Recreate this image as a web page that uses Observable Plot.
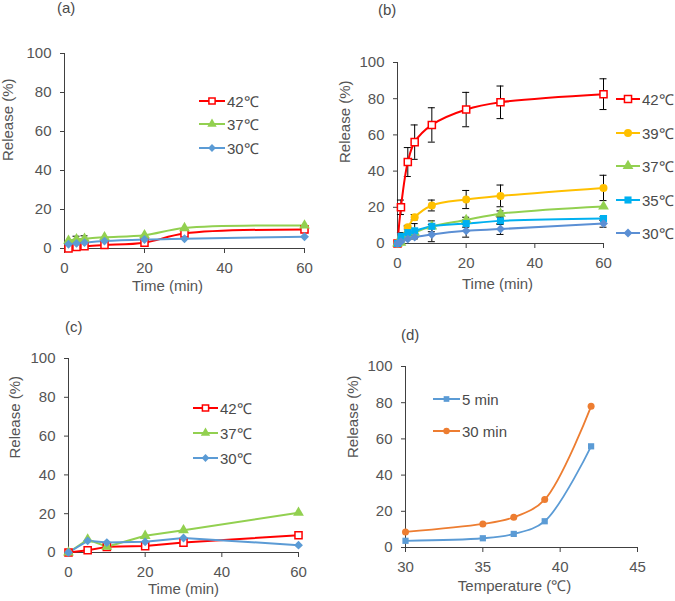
<!DOCTYPE html>
<html><head><meta charset="utf-8">
<script src="https://cdn.jsdelivr.net/npm/d3@7"></script>
<script src="https://cdn.jsdelivr.net/npm/@observablehq/plot@0.6"></script>
<style>
body{margin:0;background:#fff;font-family:"Liberation Sans",Arial,sans-serif;}
#root{position:relative;width:675px;height:601px;overflow:hidden;background:#fff;}
.panel{position:absolute;}
.panel svg text{font-weight:normal;}
.lbl{position:absolute;font-size:15px;color:#4a4a4a;line-height:16px;}
.leg{position:absolute;font-size:15px;color:#4a4a4a;display:flex;align-items:center;height:20px;white-space:nowrap;}
.leg svg{display:block;}
</style></head><body><div id="root"></div>
<script>
// ---------- data ----------
// (a)
const namesA = ["42℃", "37℃", "30℃"];
const timeA = [1, 3, 5, 10, 20, 30, 60];
const relA42 = [0, 0.8, 1.2, 1.8, 3, 7.7, 9.8];
const relA37 = [4, 4.8, 5, 5.8, 6.8, 10.5, 11.8];
const relA30 = [2.2, 2.6, 3, 3.8, 4.6, 5, 6];
const errA37 = [0, 1.5, 1.5, 0, 0, 0, 0];

// (b)
const namesB = ["42℃", "39℃", "37℃", "35℃", "30℃"];
const timeB = [0, 1, 3, 5, 10, 20, 30, 60];
const relB42 = [0, 20, 45, 56, 65.5, 74, 78, 82.5];
const relB39 = [0, 3, 9, 14.5, 21, 24.3, 26.3, 30.7];
const relB37 = [0, 0.5, 4, 6, 9.5, 13, 16.5, 20.5];
const relB35 = [0, 4, 6, 7, 9.5, 11, 12.5, 13.8];
const relB30 = [0, 1, 2.5, 3.5, 5, 7, 8, 11];
const errB42 = [0, 4, 8, 9.5, 9.5, 9.5, 9, 8.5];
const errB39 = [0, 0, 1, 1.5, 3, 5, 6, 7];
const errB37 = [0, 0, 0, 0, 1, 1.5, 1.5, 0];
const errB35 = [0, 2, 3.5, 4, 3, 2, 2, 1];
const errB30 = [0, 0, 0, 1, 4, 3.5, 3, 2];

// (c)
const namesC = ["42℃", "37℃", "30℃"];
const timeC = [0, 5, 10, 20, 30, 60];
const relC42 = [0, 1.2, 2.9, 3.3, 5.1, 8.9];
const relC37 = [0, 6.7, 3, 8.6, 11.5, 20.5];
const relC30 = [0, 6, 5.1, 5.5, 7.5, 3.8];

// (d)
const namesD = ["5 min", "30 min"];
const tempD = [30, 35, 37, 39, 42];
const relD5 = [3.7, 5.1, 7.5, 14.5, 55.9];
const relD30 = [8.6, 13, 16.7, 26.5, 78];

const yTicks = [0, 20, 40, 60, 80, 100];
const timeTicks = [0, 20, 40, 60];
const tempTicks = [30, 35, 40, 45];

// ---------- helpers ----------
const root = document.getElementById("root");
const axisColor = "#404040";
const textColor = "#555555";
const font = "'Liberation Sans', Arial, sans-serif";

function rowsFor(xs, names, vals, errs, opens) {
  const out = [];
  names.forEach((n, i) => {
    xs.forEach((x, j) => {
      out.push({t: x, v: vals[i][j], e: errs && errs[i] ? errs[i][j] : 0, s: n, open: opens[i]});
    });
  });
  return out;
}

function drawPanel(c) {
  const marks = [
    Plot.ruleX([c.xDomain[0]], {stroke: axisColor, strokeWidth: 1}),
    Plot.ruleY([0], {stroke: axisColor, strokeWidth: 1}),
    Plot.axisX(c.xTicks, {tickSize: 5, tickPadding: 9, label: null, stroke: axisColor, fill: textColor, fontSize: 15}),
    Plot.axisY(yTicks, {tickSize: 4, tickPadding: 9, label: null, stroke: axisColor, fill: textColor, fontSize: 15}),
  ];
  const eb = c.rows.filter(d => d.e > 0);
  if (eb.length) {
    marks.push(
      Plot.ruleX(eb, {x: "t", y1: d => d.v - d.e, y2: d => d.v + d.e, stroke: "#000", strokeWidth: 1}),
      Plot.ruleY(eb, {x1: "t", x2: "t", y: d => d.v + d.e, insetLeft: -3.5, insetRight: -3.5, stroke: "#000", strokeWidth: 1}),
      Plot.ruleY(eb, {x1: "t", x2: "t", y: d => d.v - d.e, insetLeft: -3.5, insetRight: -3.5, stroke: "#000", strokeWidth: 1})
    );
  }
  marks.push(
    Plot.line(c.rows, {x: "t", y: "v", z: "s", stroke: "s", curve: c.curve, strokeWidth: c.lw || 2}),
    Plot.dot(c.rows.filter(d => d.open), {x: "t", y: "v", symbol: "s", stroke: "s", fill: "white", r: c.r || 4, strokeWidth: 1.5}),
    Plot.dot(c.rows.filter(d => !d.open), {x: "t", y: "v", symbol: "s", fill: "s", r: c.r || 4}),
    Plot.text([c.xLabel], {text: d => d, frameAnchor: "bottom", dx: c.xlDx, dy: c.xlDy, fontSize: 15, fill: textColor}),
    Plot.text(["Release (%)"], {text: d => d, frameAnchor: "left", rotate: -90, dx: c.ylDx, dy: c.ylDy, fontSize: 15, fill: textColor})
  );
  const svg = Plot.plot({
    width: c.width, height: c.height,
    marginLeft: c.ml, marginRight: c.mr, marginTop: c.mt, marginBottom: c.mb,
    style: {fontFamily: font, fontSize: "15px", color: textColor, background: "transparent", overflow: "visible"},
    x: {domain: c.xDomain},
    y: {domain: [0, 100]},
    color: {domain: c.names, range: c.colors},
    symbol: {domain: c.names, range: c.symbols},
    marks
  });
  const wrap = document.createElement("div");
  wrap.className = "panel";
  wrap.style.left = c.left + "px";
  wrap.style.top = c.top + "px";
  wrap.appendChild(svg);
  root.appendChild(wrap);
}

const symMap = {square: d3.symbolSquare, triangle: d3.symbolTriangle, diamond2: d3.symbolDiamond2, circle: d3.symbolCircle};

function drawLegend(l) {
  l.names.forEach((n, i) => {
    const div = document.createElement("div");
    div.className = "leg";
    div.style.left = l.x1 + "px";
    div.style.top = (l.rows[i] - 10) + "px";
    const w = l.x2 - l.x1;
    const svg = d3.create("svg").attr("width", w + 1).attr("height", 20);
    svg.append("line").attr("x1", 0).attr("x2", w).attr("y1", 10).attr("y2", 10)
      .attr("stroke", l.colors[i]).attr("stroke-width", 2);
    const r = l.r || 3.5;
    svg.append("path")
      .attr("transform", `translate(${w / 2},10)`)
      .attr("d", d3.symbol(symMap[l.symbols[i]], r * r * Math.PI)())
      .attr("fill", l.opens[i] ? "white" : l.colors[i])
      .attr("stroke", l.opens[i] ? l.colors[i] : "none")
      .attr("stroke-width", 1.5);
    div.appendChild(svg.node());
    const span = document.createElement("span");
    span.textContent = n;
    span.style.marginLeft = "1px";
    div.appendChild(span);
    root.appendChild(div);
  });
}

function panelLabel(text, x, y) {
  const d = document.createElement("div");
  d.className = "lbl";
  d.textContent = text;
  d.style.left = x + "px";
  d.style.top = Math.max(0, y - 8) + "px";
  root.appendChild(d);
}

// ---------- panel (a) ----------
const colorsA = ["#FF0000", "#92D050", "#5B9BD5"];
const symbolsA = ["square", "triangle", "diamond2"];
const opensA = [true, false, false];
drawPanel({
  left: 0, top: 0, width: 330, height: 300, ml: 64, mr: 26, mt: 53, mb: 52,
  xDomain: [0, 60], xTicks: timeTicks, curve: "catmull-rom",
  names: namesA, colors: colorsA, symbols: symbolsA,
  rows: rowsFor(timeA, namesA, [relA42, relA37, relA30], [null, errA37, null], opensA),
  xLabel: "Time (min)", xlDx: -17, xlDy: 42, ylDx: -56, ylDy: 10
});
drawLegend({names: namesA, colors: colorsA, symbols: symbolsA, opens: opensA, x1: 199, x2: 225, rows: [101, 124, 148]});
panelLabel("(a)", 57, 8);

// ---------- panel (b) ----------
const colorsB = ["#FF0000", "#FFC000", "#92D050", "#00B0F0", "#5B8FD4"];
const symbolsB = ["square", "circle", "triangle", "square", "diamond2"];
const opensB = [true, false, false, false, false];
drawPanel({
  left: 330, top: 0, width: 345, height: 300, ml: 67, mr: 72, mt: 62, mb: 57,
  xDomain: [0, 60], xTicks: timeTicks, curve: "catmull-rom",
  names: namesB, colors: colorsB, symbols: symbolsB,
  rows: rowsFor(timeB, namesB, [relB42, relB39, relB37, relB35, relB30], [errB42, errB39, errB37, errB35, errB30], opensB),
  xLabel: "Time (min)", xlDx: -3, xlDy: 45, ylDx: -52, ylDy: 10
});
drawLegend({names: namesB, colors: colorsB, symbols: symbolsB, opens: opensB, x1: 616, x2: 640, rows: [99, 132.5, 166, 199.5, 233], r: 4});
panelLabel("(b)", 378, 10);

// ---------- panel (c) ----------
const colorsC = ["#FF0000", "#92D050", "#5B9BD5"];
drawPanel({
  left: 0, top: 300, width: 330, height: 301, ml: 68, mr: 32, mt: 58, mb: 49,
  xDomain: [0, 60], xTicks: timeTicks, curve: "linear",
  names: namesC, colors: colorsC, symbols: symbolsA,
  rows: rowsFor(timeC, namesC, [relC42, relC37, relC30], null, opensA),
  xLabel: "Time (min)", xlDx: 0, xlDy: 41, ylDx: -53, ylDy: 3
});
drawLegend({names: namesC, colors: colorsC, symbols: symbolsA, opens: opensA, x1: 193, x2: 218, rows: [408, 433, 458]});
panelLabel("(c)", 65, 327);

// ---------- panel (d) ----------
const colorsD = ["#5B9BD5", "#ED7D31"];
const symbolsD = ["square", "circle"];
const opensD = [false, false];
drawPanel({
  left: 330, top: 300, width: 345, height: 301, ml: 75, mr: 38, mt: 66, mb: 54,
  xDomain: [30, 45], xTicks: tempTicks, curve: "catmull-rom", r: 3.5, lw: 1.8,
  names: namesD, colors: colorsD, symbols: symbolsD,
  rows: rowsFor(tempD, namesD, [relD5, relD30], null, opensD),
  xLabel: "Temperature (℃)", xlDx: -7, xlDy: 43, ylDx: -52, ylDy: 1
});
drawLegend({names: namesD, colors: colorsD, symbols: symbolsD, opens: opensD, x1: 433, x2: 460, rows: [399, 431], r: 3.2});
panelLabel("(d)", 401, 335);
</script>
</body></html>
